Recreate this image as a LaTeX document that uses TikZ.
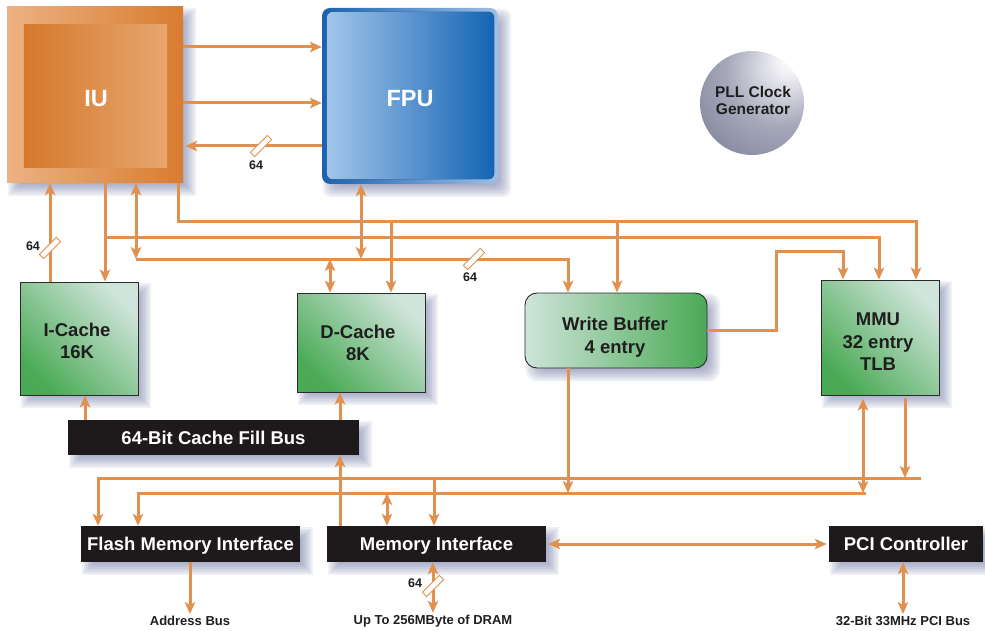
\documentclass[tikz,border=0pt]{standalone}
\usepackage{fontspec}
\setmainfont{Liberation Sans}
\usetikzlibrary{arrows.meta,calc}
\definecolor{arrc}{HTML}{E0914F}
\definecolor{shadowc}{HTML}{5E6898}
\definecolor{iuoutL}{HTML}{ECB282}
\definecolor{iuoutR}{HTML}{D97C30}
\definecolor{iuinL}{HTML}{D6782C}
\definecolor{iuinR}{HTML}{E6A66E}
\definecolor{fpuoutL}{HTML}{1A62B0}
\definecolor{fpuoutR}{HTML}{9CC0E7}
\definecolor{fpuinL}{HTML}{A2C5EA}
\definecolor{fpuinR}{HTML}{1464B4}
\definecolor{gtop}{HTML}{CFE4DA}
\definecolor{gbot}{HTML}{4AAA55}
\definecolor{boxedge}{HTML}{2A2A2A}
\definecolor{bbox}{HTML}{1E1A1B}
\definecolor{textc}{HTML}{1E1E1E}
\definecolor{pllhi}{HTML}{F2F2F6}
\definecolor{pllmid}{HTML}{A6A8BA}
\definecolor{pllgray}{HTML}{777A90}
\definecolor{plldark}{HTML}{4A4C60}
\definecolor{pllblack}{HTML}{26262E}
\pgfdeclareradialshading{pllball}{\pgfpoint{20bp}{22bp}}{color(0bp)=(white); color(6bp)=(pllhi); color(26bp)=(pllmid); color(50bp)=(pllgray); color(68bp)=(plldark); color(80bp)=(pllblack)}
\pgfdeclarelayer{bg}
\pgfsetlayers{bg,main}
\newcommand{\dropshadow}[2][0pt]{%
  \foreach \a in {1,3,...,13}{%
    \fill[shadowc,opacity=0.1,rounded corners=#1] ([shift={(\a,\a)}]#2.north west) rectangle ([shift={({14-\a},{14-\a})}]#2.south east);}}
\tikzset{
  tipS/.tip={Stealth[length=12pt,width=10.5pt,inset=3pt]},
  arr/.style={draw=arrc, line width=3pt, -tipS},
  arrtwo/.style={draw=arrc, line width=3pt, tipS-tipS},
  boxfont/.style={font=\fontsize{18.5}{22.5}\selectfont\bfseries},
  greenbox/.style={draw=boxedge, line width=0.9pt, top color=gtop, bottom color=gbot, shading angle=-45, inner sep=0pt},
  wbbox/.style={draw=boxedge, line width=0.9pt, left color=gtop, right color=gbot, rounded corners=12pt, inner sep=0pt},
  glabel/.style={align=center, text=textc, boxfont, inner sep=0pt, text depth=0pt},
  blackbox/.style={fill=bbox, text=white, inner sep=0pt, text depth=0pt, boxfont},
  bigtext/.style={text=white, font=\fontsize{23.5}{26}\selectfont\bfseries},
  slashmark/.style={draw=arrc, fill=white, line width=0.9pt, minimum width=24pt, minimum height=6pt, inner sep=0pt, rotate=45},
  widthlabel/.style={text=textc, font=\fontsize{12.5}{14}\selectfont\bfseries},
  buslabel/.style={text=textc, font=\fontsize{13}{15}\selectfont\bfseries, inner sep=2pt},
}
\begin{document}
\begin{tikzpicture}[x=1pt,y=-1pt]
\useasboundingbox (0,0) rectangle (985,631);
% helper rows and columns
\coordinate (R1) at (0,47);
\coordinate (R2) at (0,103);
\coordinate (R3) at (0,146);
\coordinate (L1) at (0,222);
\coordinate (L2) at (0,237);
\coordinate (LW) at (0,251);
\coordinate (L3) at (0,259);
\coordinate (B1) at (0,478);
\coordinate (B2) at (0,493);
\coordinate (X50) at (50,0);
\coordinate (X85) at (85,0);
\coordinate (X98) at (98,0);
\coordinate (X105) at (105,0);
\coordinate (X136) at (136,0);
\coordinate (X138) at (138,0);
\coordinate (X178) at (178,0);
\coordinate (X330) at (330,0);
\coordinate (X340) at (340,0);
\coordinate (X361) at (361,0);
\coordinate (X387) at (387,0);
\coordinate (X391) at (391,0);
\coordinate (X434) at (434,0);
\coordinate (X568) at (568,0);
\coordinate (X617) at (617,0);
\coordinate (X776) at (776,0);
\coordinate (X843) at (843,0);
\coordinate (X863) at (863,0);
\coordinate (X866) at (866,0);
\coordinate (X879) at (879,0);
\coordinate (X905) at (905,0);
\coordinate (X916) at (916,0);
\coordinate (X921) at (921,0);

% IU
\node[left color=iuoutL, right color=iuoutR, minimum width=176pt, minimum height=176pt, inner sep=0pt] (IU) at (95,95) {};
\fill[left color=iuinL, right color=iuinR] ([shift={(17,18)}]IU.north west) rectangle ([shift={(-16,-16)}]IU.south east);
\node[bigtext] (IUt) at (96,99) {IU};
% FPU
\node[left color=fpuoutL, right color=fpuoutR, rounded corners=8pt, minimum width=176pt, minimum height=176pt, inner sep=0pt] (FPU) at (410,96) {};
\fill[rounded corners=6pt, left color=fpuinL, right color=fpuinR] ([shift={(5,4)}]FPU.north west) rectangle ([shift={(-4,-5)}]FPU.south east);
\node[bigtext] (FPUt) at (410,99) {FPU};
% PLL
\node[circle, minimum size=104pt, inner sep=0pt, shading=pllball] (PLL) at (752,103) {};
\node[align=center, text=textc, inner sep=0pt, text depth=0pt, font=\fontsize{15.5}{16.8}\selectfont\bfseries] (PLLt) at (753,100.5) {PLL Clock\\Generator};

% green boxes
\node[greenbox, minimum width=118pt, minimum height=113pt] (IC) at (79,338.5) {};
\node[glabel] (ICt) at (77,341) {I-Cache\\16K};
\node[greenbox, minimum width=128pt, minimum height=99pt] (DC) at (361,342.5) {};
\node[glabel] (DCt) at (358,343) {D-Cache\\8K};
\node[wbbox, minimum width=182pt, minimum height=75pt] (WB) at (616,330.5) {};
\node[glabel] (WBt) at (615,335.5) {Write Buffer\\4 entry};
\node[greenbox, minimum width=118pt, minimum height=115pt] (MMU) at (880,337.5) {};
\node[glabel] (MMUt) at (878,342) {MMU\\32 entry\\TLB};

% black boxes
\node[blackbox, minimum width=291pt, minimum height=35pt] (BUS) at (213.5,437.5) {64-Bit Cache Fill Bus};
\node[blackbox, minimum width=219pt, minimum height=36pt] (FM) at (190.5,544) {Flash Memory Interface};
\node[blackbox, minimum width=219pt, minimum height=36pt] (MI) at (436.5,544) {Memory Interface};
\node[blackbox, minimum width=154pt, minimum height=36pt] (PCI) at (906,544) {PCI Controller};

% bottom labels
\node[buslabel] (AB) at (190,621) {Address Bus};
\node[buslabel] (DR) at (433,621) {Up To 256MByte of DRAM};
\node[buslabel] (PB) at (903,621) {32-Bit 33MHz PCI Bus};

% shadows
\begin{pgfonlayer}{bg}
\dropshadow{IU}
\dropshadow[8pt]{FPU}
\dropshadow{IC}
\dropshadow{DC}
\dropshadow[12pt]{WB}
\dropshadow{MMU}
\dropshadow{BUS}
\dropshadow{FM}
\dropshadow{MI}
\dropshadow{PCI}
\end{pgfonlayer}

% IU <-> FPU
\draw[arr] (IU.east |- R1) -- (FPU.west |- R1);
\draw[arr] (IU.east |- R2) -- (FPU.west |- R2);
\draw[arr] (FPU.west |- R3) -- ([xshift=2pt]IU.east |- R3);

% upper buses
\draw[arr] (IC.north -| X50) -- (IU.south -| X50);
\draw[arr] (IU.south -| X105) -- (IC.north -| X105);
\draw[arr] (X105 |- L2) -- (X879 |- L2) -- (MMU.north -| X879);
\draw[arr] (IU.south -| X178) -- (X178 |- L1) -- (X916 |- L1) -- (MMU.north -| X916);
\draw[arr] (X391 |- L1) -- (DC.north -| X391);
\draw[arr] (X617 |- L1) -- (WB.north -| X617);
\draw[arrtwo] (IU.south -| X136) -- (X136 |- L3);
\draw[arr] (X136 |- L3) -- (X568 |- L3) -- (WB.north -| X568);
\draw[arrtwo] (FPU.south -| X361) -- (X361 |- L3);
\draw[arrtwo] (X330 |- L3) -- (DC.north -| X330);
\draw[arr] (WB.east) -- (X776 |- WB.east) -- (X776 |- LW) -- (X843 |- LW) -- (MMU.north -| X843);

% cache fill bus
\draw[arr] (BUS.north -| X85) -- (IC.south -| X85);
\draw[arr] (BUS.north -| X340) -- (DC.south -| X340);
\draw[arr] (MI.north -| X340) -- (BUS.south -| X340);

% lower buses
\draw[arr] (X921 |- B1) -- (X98 |- B1) -- (FM.north -| X98);
\draw[arr] (X434 |- B1) -- (MI.north -| X434);
\draw[arr] ([yshift=-3pt]MMU.south -| X905) -- (X905 |- B1);
\draw[arr] (X866 |- B2) -- (X138 |- B2) -- (FM.north -| X138);
\draw[arrtwo] (X387 |- B2) -- (MI.north -| X387);
\draw[arr] (WB.south -| X568) -- (X568 |- B2);
\draw[arrtwo] ([yshift=-3pt]MMU.south -| X863) -- (X863 |- B2);

% bottom
\draw[arrtwo] ([xshift=2pt]MI.east) -- ([xshift=-2pt]PCI.west);
\draw[arr] (FM.south -| AB) -- (AB.north);
\draw[arrtwo] (MI.south -| DR) -- (DR.north);
\draw[arrtwo] (PCI.south -| PB) -- (PB.north);

% width marks
\node[slashmark] (S1) at (261,146) {};
\node[widthlabel] (W1) at (256,165) {64};
\node[slashmark] (S2) at (50,248) {};
\node[widthlabel] (W2) at (33,246) {64};
\node[slashmark] (S3) at (474,259) {};
\node[widthlabel] (W3) at (470,277) {64};
\node[slashmark] (S4) at (433,586) {};
\node[widthlabel] (W4) at (415,583) {64};
\end{tikzpicture}
\end{document}
